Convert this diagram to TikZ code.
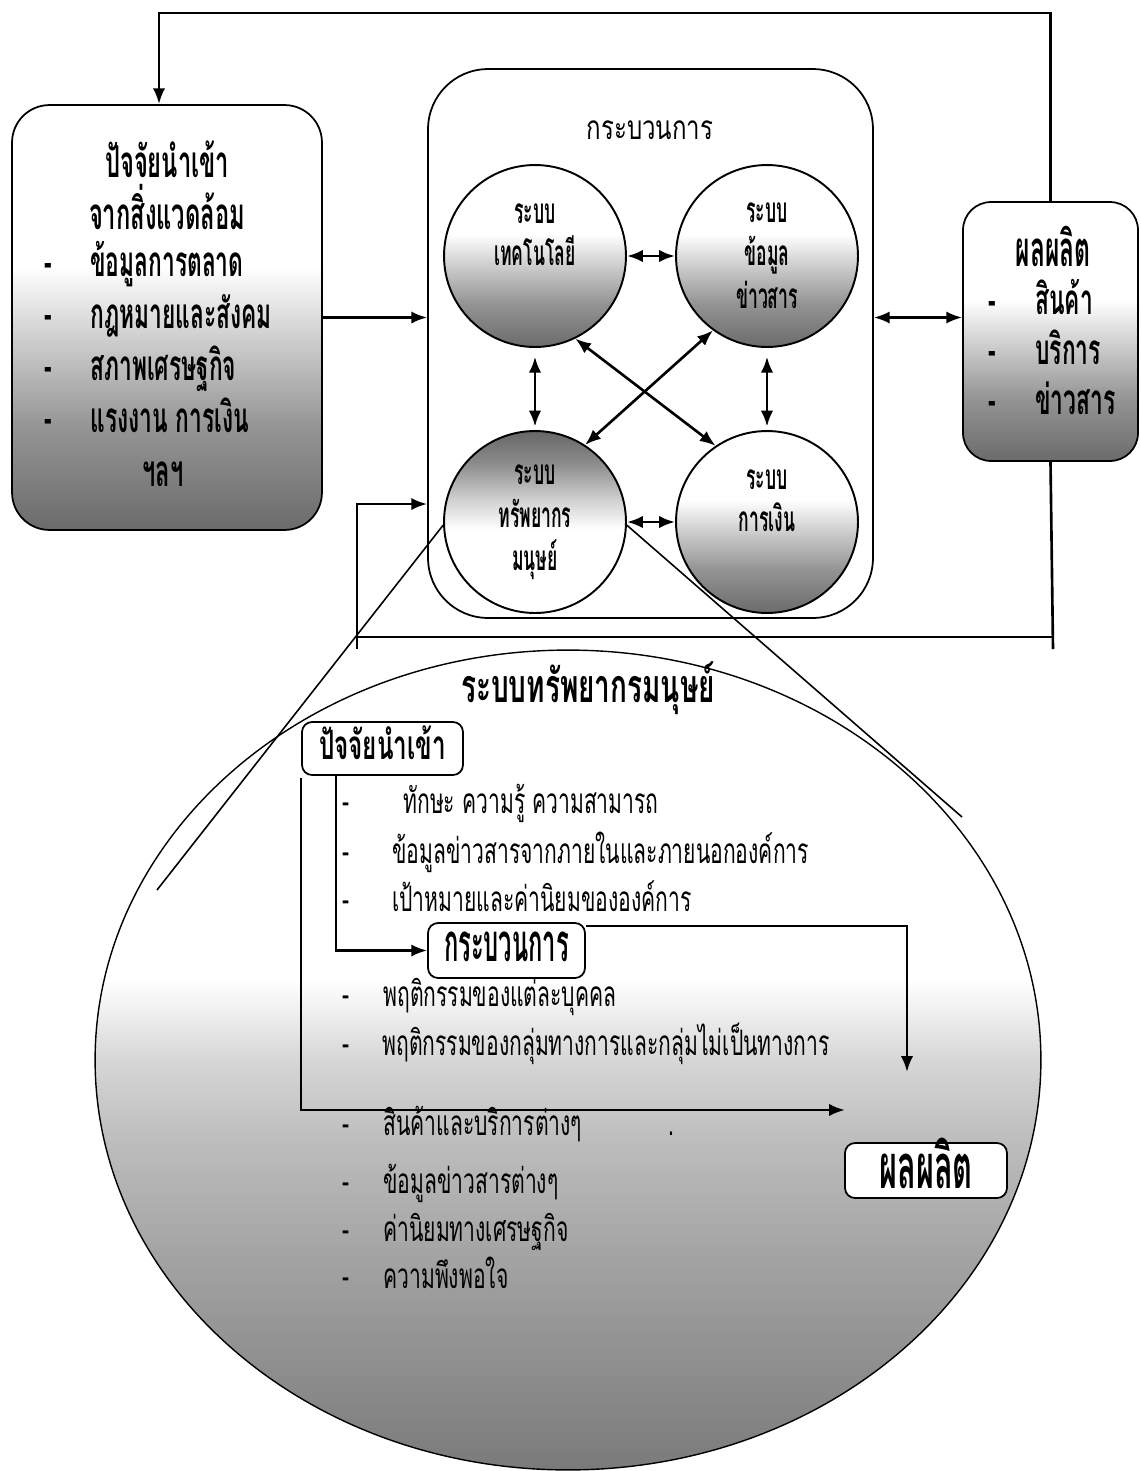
\documentclass[tikz,border=0pt]{standalone}
\usepackage{fontspec}
\usepackage{tikz}
\usetikzlibrary{arrows.meta,shapes.geometric,calc}

\newfontfamily\thaislim[Script=Thai,FakeStretch=0.72]{Loma}
\newfontfamily\thaithin[Script=Thai,FakeStretch=0.6]{Loma}
\newfontfamily\thaiboxy[Script=Thai,FakeStretch=0.54]{Loma}
\newfontfamily\thainarrow[Script=Thai,FakeStretch=0.5]{Loma}
\newfontfamily\thaitall[Script=Thai,FakeStretch=0.45]{Loma}

\pgfdeclareverticalshading{graylow}{100bp}{color(0bp)=(black!58); color(25bp)=(black!58); color(37bp)=(black!42); color(49bp)=(black!16); color(56bp)=(white); color(100bp)=(white)}
\pgfdeclareverticalshading{grayhigh}{100bp}{color(0bp)=(white); color(48bp)=(white); color(56bp)=(black!18); color(66bp)=(black!45); color(75bp)=(black!60); color(100bp)=(black!60)}
\pgfdeclareverticalshading{grayzone}{100bp}{color(0bp)=(black!52); color(25bp)=(black!52); color(38bp)=(black!36); color(45bp)=(black!26); color(50bp)=(black!16); color(53bp)=(black!6); color(55bp)=(white); color(100bp)=(white)}

\tikzset{
	wire/.style={line width=1.5pt},
	flow/.style={wire,-{Latex[length=9pt,width=7pt]}},
	twoway/.style={wire,{Latex[length=9pt,width=7pt]}-{Latex[length=9pt,width=7pt]}},
	lens/.style={line width=0.9pt},
	panel/.style={draw,rectangle,line width=1pt,inner sep=0pt},
	sysball/.style={draw,circle,line width=1.1pt,minimum size=3.64cm,inner sep=0pt,align=center,shade,
		font=\thainarrow\bfseries\fontsize{20}{24.4}\selectfont},
	zone/.style={draw,ellipse,line width=0.8pt,minimum width=18.92cm,minimum height=16.4cm,shade,shading=grayzone},
	tag/.style={draw,rectangle,rounded corners=0.2cm,line width=1pt,fill=white,inner sep=0pt,text height=14pt,text depth=2pt},
	boxhead/.style={inner sep=0pt,align=center,font=\thaiboxy\bfseries\fontsize{25}{29.5}\selectfont},
	boxitem/.style={anchor=base west,inner sep=0pt,font=\thaiboxy\bfseries\fontsize{24}{26}\selectfont},
	item/.style={anchor=base west,inner sep=0pt,font=\thaithin\fontsize{20}{24}\selectfont},
}

\begin{document}
\begin{tikzpicture}[x=0.02cm,y=-0.02cm]
	\useasboundingbox (0,0) rectangle (1141,1471);

	% the human resource system, blown up
	\node[zone] (hrzone) at (568,1060) {};

	% environment, process, output
	\node[panel,rounded corners=0.75cm,minimum width=6.2cm,minimum height=8.5cm,shading=graylow,shade] (envbox) at (167,317.5) {};
	\node[panel,rounded corners=1.2cm,minimum width=8.9cm,minimum height=10.98cm] (procbox) at (650.5,343.5) {};
	\node[panel,rounded corners=0.56cm,minimum width=3.5cm,minimum height=5.18cm,shading=graylow,shade] (outbox) at (1050.5,331.5) {};

	\node[boxhead] (envtitle) at (167,185) {ปัจจัยนำเข้า\\จากสิ่งแวดล้อม};
	\foreach \y/\txt [count=\i] in {266/ข้อมูลการตลาด,318/กฎหมายและสังคม,370/สภาพเศรษฐกิจ,422/แรงงาน การเงิน}
	{
		\node[boxitem] (envdash\i) at (44,\y+10) {-};
		\node[boxitem] (envitem\i) at (90,\y+10) {\txt};
	}
	\node[boxhead] (envetc) at (163,474) {ฯลฯ};

	\node[boxhead,font=\thainarrow\bfseries\fontsize{28}{30}\selectfont] (outtitle) at (1053,246) {ผลผลิต};
	\foreach \y/\txt [count=\i] in {304/สินค้า,354/บริการ,404/ข่าวสาร}
	{
		\node[boxitem] (outdash\i) at (988,\y+10) {-};
		\node[boxitem] (outitem\i) at (1035,\y+10) {\txt};
	}

	\node[font=\thaislim\fontsize{19}{22}\selectfont] (proctitle) at (650,130) {กระบวนการ};

	% the four sub-systems
	\node[sysball,shading=graylow] (tech) at (535,256) {ระบบ\\เทคโนโลยี\\~};
	\node[sysball,shading=graylow] (info) at (767,256) {ระบบ\\ข้อมูล\\ข่าวสาร};
	\node[sysball,shading=grayhigh] (human) at (535,522) {ระบบ\\ทรัพยากร\\มนุษย์};
	\node[sysball,shading=graylow] (money) at (767,522) {ระบบ\\การเงิน\\~};

	\draw[twoway] (tech.east) -- (info.west);
	\draw[twoway] (human.east) -- (money.west);
	\draw[twoway,shorten <=5pt,shorten >=2pt] (tech.south) -- (human.north);
	\draw[twoway,shorten <=5pt,shorten >=2pt] (info.south) -- (money.north);
	\draw[twoway] (tech.-64) -- (money.124);
	\draw[twoway] (info.234) -- (human.57);

	% flows round the organisation
	\coordinate (fbtop) at (159,13);
	\coordinate (fbr) at (1053,637);
	\coordinate (fbl) at (357,637);
	\coordinate (fbin) at (400,504);
	\draw[flow] (outbox.north) |- (fbtop) -- (fbtop |- envbox.north);
	\draw[flow] (envbox.east) -- (envbox.east -| procbox.west);
	\draw[twoway] (procbox.east |- envbox.east) -- (outbox.west |- envbox.east);
	\draw[wire] (outbox.south) -- ($(fbr)+(0,12)$);
	\draw[wire] (fbr) -- (fbl);
	\draw[flow] ($(fbl)+(0,12)$) -- (fbl) |- (fbin -| procbox.west);

	% lens lines
	\coordinate (lensl) at (157,890);
	\coordinate (lensr) at (962,817);
	\draw[lens] (human.182) -- (lensl);
	\draw[lens] (human.-2) -- (lensr);

	% inside the zone
	\node[font=\thaithin\bfseries\fontsize{26.5}{28}\selectfont] (zonetitle) at (588,688) {ระบบทรัพยากรมนุษย์};
	\node[tag,minimum width=3.22cm,minimum height=1.06cm,font=\thaithin\bfseries\fontsize{23}{24}\selectfont] (inbox) at (382.5,748.5) {ปัจจัยนำเข้า};
	\node[tag,minimum width=3.14cm,minimum height=1.1cm,font=\thaitall\bfseries\fontsize{30}{32}\selectfont] (stepbox) at (506.5,950.5) {กระบวนการ};
	\node[tag,minimum width=3.24cm,minimum height=1.1cm,text height=23pt,font=\thainarrow\bfseries\fontsize{35}{37}\selectfont] (yieldbox) at (926,1170.5) {ผลผลิต};

	\foreach \y/\x/\txt [count=\i] in {805/403/ทักษะ ความรู้ ความสามารถ,855/392/ข้อมูลข่าวสารจากภายในและภายนอกองค์การ,903/392/เป้าหมายและค่านิยมขององค์การ,998/383/พฤติกรรมของแต่ละบุคคล,1047/382/พฤติกรรมของกลุ่มทางการและกลุ่มไม่เป็นทางการ,1127/383/สินค้าและบริการต่างๆ,1185/383/ข้อมูลข่าวสารต่างๆ,1233/383/ค่านิยมทางเศรษฐกิจ,1280/383/ความพึงพอใจ}
	{
		\node[item] (hrdash\i) at (342,\y+8) {-};
		\node[item] (hritem\i) at (\x,\y+8) {\txt};
	}
	\node[item] (hrdot) at (668,1135) {.};

	\coordinate (stepend) at (907,1072);
	\coordinate (yieldend) at (845,1110);
	\draw[flow] ($(inbox.south west)+(35,0)$) |- (stepbox.west);
	\draw[flow] ($(stepbox.north east)+(0,4)$) -| (stepend);
	\draw[flow] ($(inbox.south west)+(0,2)$) |- (yieldend);
\end{tikzpicture}
\end{document}
